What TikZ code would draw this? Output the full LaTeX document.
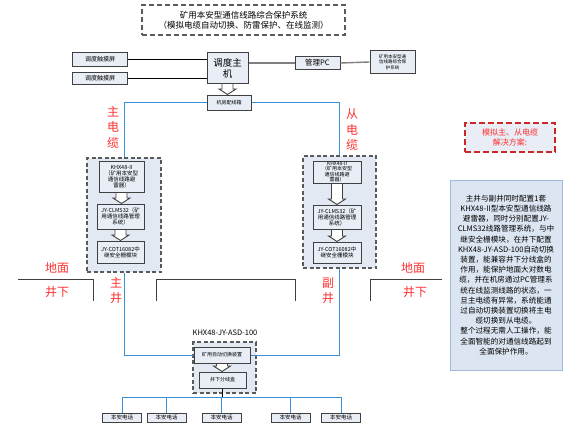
\documentclass[tikz,border=0pt]{standalone}
\usepackage{fontspec}
\setmainfont{Noto Sans CJK SC}
\usetikzlibrary{calc}
\definecolor{boxfill}{HTML}{E8EDF6}
\definecolor{grpfill}{HTML}{E3E9F3}
\definecolor{boxline}{HTML}{404040}
\definecolor{grpline}{HTML}{5A5A5A}
\definecolor{cableblue}{HTML}{3A8FD9}
\definecolor{labred}{HTML}{FF3030}
\definecolor{descfill}{HTML}{DCE6F2}
\definecolor{descline}{HTML}{A3BAD8}
% hollow arrow from one box down to the next
\newcommand\hollowdown[2]{%
\draw[boxline,fill=white,line width=0.9pt] let \p1=(#1), \p2=(#2) in
 (\x1-5.5pt,\y1) -- (\x1+5.5pt,\y1) -- (\x1+5.5pt,\y2+5.5pt) -- (\x1+8.5pt,\y2+5.5pt)
 -- (\x1,\y2) -- (\x1-8.5pt,\y2+5.5pt) -- (\x1-5.5pt,\y2+5.5pt) -- cycle;}
\begin{document}
\begin{tikzpicture}
[x=1pt,y=-1pt,
unit/.style={draw=boxline,fill=boxfill,line width=1pt,inner sep=0.5pt,align=center,font=\fontsize{5.5}{6}\selectfont},
group/.style={draw=grpline,fill=grpfill,dash pattern=on 4pt off 2.5pt,line width=1.1pt},
cable/.style={draw=cableblue,line width=0.9pt},
wire/.style={draw=black,line width=0.8pt},
ground/.style={draw=boxline,line width=1pt},
redlab/.style={text=labred,align=center,font=\fontsize{12}{15.5}\selectfont}]
\useasboundingbox (0,0) rectangle (575,428);

% title
\node[draw=grpline,dash pattern=on 5pt off 3pt,line width=1.1pt,fill=white,minimum width=203pt,minimum height=30pt,align=center,font=\fontsize{8.5}{10}\selectfont] (title) at (243.5,20) {矿用本安型通信线路综合保护系统\\（模拟电缆自动切换、防雷保护、在线监测）};

% machine room
\node[unit,minimum width=55pt,minimum height=13pt,font=\fontsize{6}{7}\selectfont] (touchA) at (100,59.5) {调度触摸屏};
\node[unit,minimum width=55pt,minimum height=12pt,font=\fontsize{6}{7}\selectfont] (touchB) at (100,78) {调度触摸屏};
\node[unit,minimum width=41pt,minimum height=30pt,font=\fontsize{9.5}{11}\selectfont] (host) at (227.5,68) {调度主\\机};
\node[unit,minimum width=45pt,minimum height=12pt,font=\fontsize{7.5}{8}\selectfont] (pc) at (317.5,63) {管理PC};
\node[unit,minimum width=45pt,minimum height=22pt,font=\fontsize{4.5}{5.5}\selectfont] (protsys) at (392.5,62) {矿用本安型通\\信线路综合保\\护系统};
\node[unit,minimum width=44pt,minimum height=15pt,font=\fontsize{5}{6}\selectfont] (rack) at (229,102.5) {机房配线箱};
\draw[wire] (touchA.east) -- (touchA.east -| host.west);
\draw[wire] (touchB.east) -- (touchB.east -| host.west);
\draw[draw=gray,line width=1.4pt] (host.east |- pc.west) -- (pc.west);
\draw[draw=gray,line width=1.4pt] (pc.east) -- (protsys.west);
\hollowdown{host.south}{rack.north}

% main shaft
\node[group,minimum width=74pt,minimum height=114pt] (maingrp) at (124,215) {};
\node[unit,minimum width=45pt,minimum height=31pt] (mainA) at (121.5,176.5) {KHX48-II\\（矿用本安型\\通信线路避\\雷器）};
\node[unit,minimum width=47pt,minimum height=25pt] (mainB) at (120.5,216.5) {JY-CLMS32（矿\\用通信线路管理\\系统）};
\node[unit,minimum width=47pt,minimum height=22pt] (mainC) at (120.5,252) {JY-COT16082中\\继安全栅模块};
\hollowdown{mainA.south}{mainB.north}
\hollowdown{mainB.south}{mainC.north}

% auxiliary shaft
\node[group,minimum width=73pt,minimum height=112pt] (auxgrp) at (339.5,212) {};
\node[unit,minimum width=48pt,minimum height=22pt,font=\fontsize{5}{5.6}\selectfont] (auxA) at (337,172) {KHX48-II\\（矿用本安型\\通信线路避\\雷器）};
\node[unit,minimum width=48pt,minimum height=24pt] (auxB) at (337,217) {JY-CLMS32（矿\\用通信线路管理\\系统）};
\node[unit,minimum width=48pt,minimum height=21pt] (auxC) at (337,252.5) {JY-COT16082中\\继安全栅模块};
\hollowdown{auxA.south}{auxB.north}
\hollowdown{auxB.south}{auxC.north}

% underground switch
\node[font=\fontsize{7.5}{8}\selectfont] (swlabel) at (225,333) {KHX48-JY-ASD-100};
\node[group,minimum width=63pt,minimum height=51pt] (swgrp) at (224.5,367.5) {};
\node[unit,minimum width=56pt,minimum height=16pt,font=\fontsize{5}{6}\selectfont] (switch) at (222,355) {矿用自动切换装置};
\node[unit,minimum width=47pt,minimum height=16pt,font=\fontsize{5}{6}\selectfont] (junction) at (222.5,380) {井下分线盒};
\hollowdown{switch.south}{junction.north}

% cables
\draw[cable] (rack.west) -| (maingrp.north);
\draw[cable] (rack.east) -| (auxgrp.north);
\draw[cable] (maingrp.south) |- (switch.west);
\draw[cable] (auxgrp.south) |- (switch.east);

% phones
\coordinate (bus) at (0,397);
\foreach \n / \x in {1/122,2/166.5,3/221.5,4/290.5,5/341}
{
	\node[unit,minimum width=39pt,minimum height=9pt,font=\fontsize{5.5}{6}\selectfont] (phone\n) at (\x,417.5) {本安电话};
	\draw[cable] (phone\n.north) -- (phone\n.north |- bus);
}
\draw[cable] (phone1.north |- bus) -- (phone5.north |- bus);
\draw[wire] (junction.south) -- (junction.south |- bus);

% surface / underground
\draw[ground] (18,279) -- (93,279) -- (93,301);
\draw[ground] (156,301) -- (156,279) -- (295,279) -- (295,301);
\draw[ground] (370,301) -- (370,279) -- (442,279);
\node[redlab] (maincab) at (113,127) {主\\电\\缆};
\node[redlab] (auxcab) at (352,130) {从\\电\\缆};
\node[redlab] (surfL) at (57,268) {地面};
\node[redlab] (downL) at (57,292) {井下};
\node[redlab] (mainshaft) at (116,290.5) {主\\井};
\node[redlab] (auxshaft) at (328,290.5) {副\\井};
\node[redlab] (surfR) at (413,268) {地面};
\node[redlab] (downR) at (415,292) {井下};

% solution
\node[draw=labred!80!black,dash pattern=on 6pt off 3pt,line width=1.1pt,fill=boxfill,minimum width=90pt,minimum height=29pt,align=center,text=labred,font=\fontsize{8}{10}\selectfont] (solution) at (510,137.5) {模拟主、从电缆\\解决方案:};
\node[draw=descline,fill=descfill,line width=1pt,minimum width=112pt,minimum height=190pt,align=center,font=\fontsize{7.6}{10.2}\selectfont] (desc) at (506,275) {主井与副井同时配置1套\\KHX48-II型本安型通信线路\\避雷器，同时分别配置JY-\\CLMS32线路管理系统，与中\\继安全栅模块，在井下配置\\KHX48-JY-ASD-100自动切换\\装置，能兼容井下分线盒的\\作用，能保护地面大对数电\\缆，并在机房通过PC管理系\\统在线监测线路的状态，一\\旦主电缆有异常，系统能通\\过自动切换装置切换将主电\\缆切换到从电缆。\\整个过程无需人工操作，能\\全面智能的对通信线路起到\\全面保护作用。};
\end{tikzpicture}
\end{document}
